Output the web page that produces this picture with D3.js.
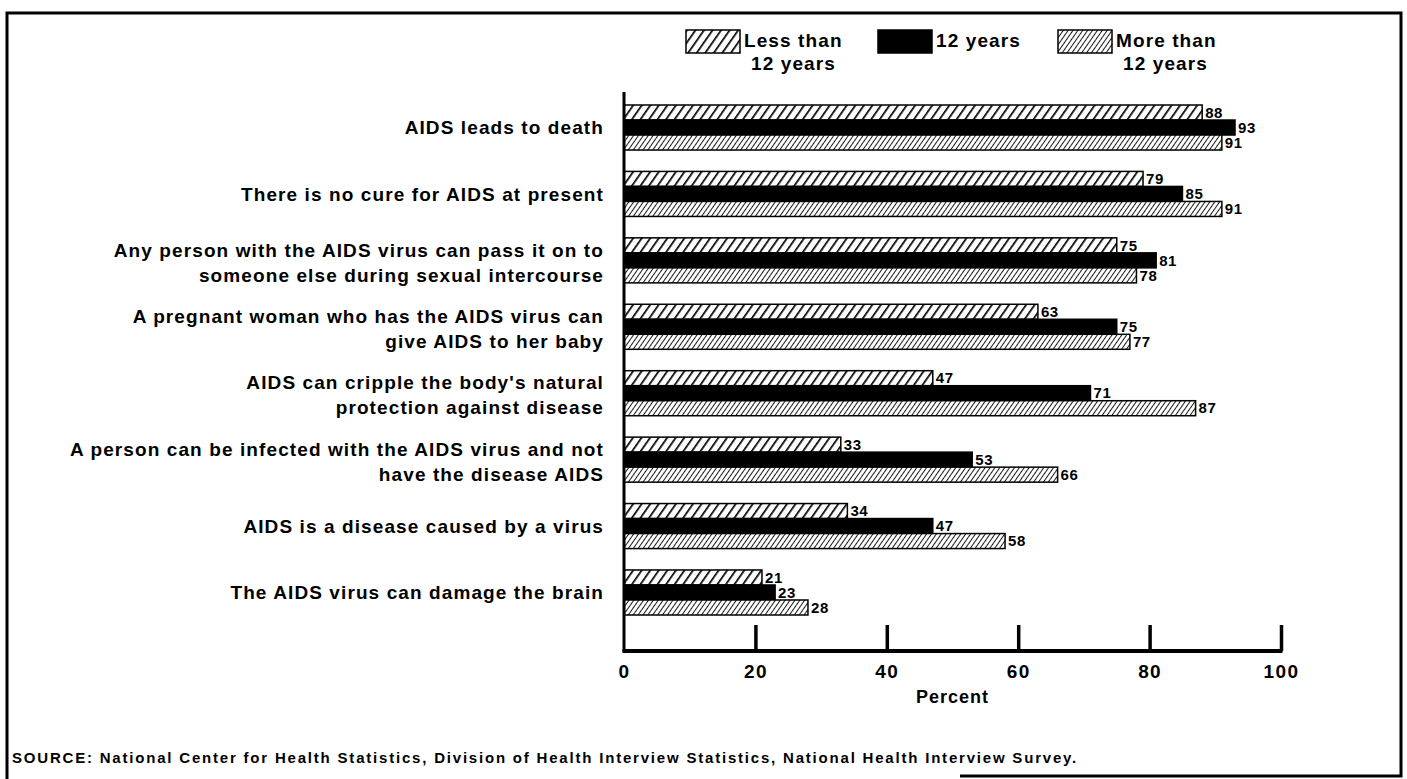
<!DOCTYPE html>
<html>
<head>
<meta charset="utf-8">
<script src="https://cdn.jsdelivr.net/npm/d3@7"></script>
<style>
  body { margin: 0; background: #fff; }
  svg text { font-family: "Liberation Sans", Arial, sans-serif; font-weight: bold; fill: #000; }
</style>
</head>
<body>
<svg id="chart"></svg>
<script>
// data
var categories = [
  ["AIDS leads to death"],
  ["There is no cure for AIDS at present"],
  ["Any person with the AIDS virus can pass it on to", "someone else during sexual intercourse"],
  ["A pregnant woman who has the AIDS virus can", "give AIDS to her baby"],
  ["AIDS can cripple the body's natural", "protection against disease"],
  ["A person can be infected with the AIDS virus and not", "have the disease AIDS"],
  ["AIDS is a disease caused by a virus"],
  ["The AIDS virus can damage the brain"]
];
var lessThan12 = [88, 79, 75, 63, 47, 33, 34, 21];
var years12    = [93, 85, 81, 75, 71, 53, 47, 23];
var moreThan12 = [91, 91, 78, 77, 87, 66, 58, 28];
var seriesNames = [["Less than", "12 years"], ["12 years"], ["More than", "12 years"]];
var xTicks = [0, 20, 40, 60, 80, 100];
var sourceNote = "SOURCE: National Center for Health Statistics, Division of Health Interview Statistics, National Health Interview Survey.";

var W = 1407, H = 779;
var svg = d3.select("#chart").attr("width", W).attr("height", H);

// hatch patterns
var defs = svg.append("defs");
function hatch(id, gap, sw) {
  var p = defs.append("pattern")
      .attr("id", id)
      .attr("patternUnits", "userSpaceOnUse")
      .attr("width", gap).attr("height", gap)
      .attr("patternTransform", "rotate(35)");
  p.append("rect").attr("width", gap).attr("height", gap).attr("fill", "#fff");
  p.append("line").attr("x1", 0).attr("y1", 0).attr("x2", 0).attr("y2", gap)
      .attr("stroke", "#000").attr("stroke-width", sw);
}
hatch("hatchWide", 7, 3.4);
hatch("hatchFine", 4, 1.8);
var fills = ["url(#hatchWide)", "#000", "url(#hatchFine)"];

// frame
svg.append("path")
    .attr("fill", "none").attr("stroke", "#000").attr("stroke-width", 3)
    .attr("d", "M7,779 L7,13 L1401,13 L1401,776 L960,776");

var x = d3.scaleLinear().domain([0, 100]).range([624, 1281]);
var y = d3.scaleBand().domain(d3.range(categories.length)).range([105, 615]).paddingInner(0.322);
var sub = d3.scaleBand().domain([0, 1, 2]).range([0, y.bandwidth()]);

var series = [lessThan12, years12, moreThan12];

// bars
var groups = svg.append("g").selectAll("g")
    .data(categories)
    .join("g")
    .attr("transform", function(d, i) { return "translate(0," + y(i) + ")"; });

groups.each(function(d, i) {
  var g = d3.select(this);
  series.forEach(function(s, k) {
    g.append("rect")
      .attr("x", x(0))
      .attr("y", sub(k))
      .attr("width", x(s[i]) - x(0))
      .attr("height", sub.bandwidth())
      .attr("fill", fills[k])
      .attr("stroke", "#000")
      .attr("stroke-width", 1.5);
    g.append("text")
      .attr("x", x(s[i]) + 3)
      .attr("y", sub(k) + sub.bandwidth() / 2)
      .attr("dy", "0.35em")
      .style("font-size", "15px")
      .style("letter-spacing", "0.6px")
      .text(s[i]);
  });
  // category label
  var lh = 25;
  var shift = d.length > 1 ? 2 : 0;
  var t = g.append("text")
    .attr("text-anchor", "end")
    .style("font-size", "19px")
    .style("letter-spacing", "1.1px");
  d.forEach(function(l, j) {
    t.append("tspan")
      .attr("x", 604)
      .attr("y", y.bandwidth() / 2 + shift + (j - (d.length - 1) / 2) * lh)
      .attr("dy", "0.35em")
      .text(l);
  });
});

// axes
var axisG = svg.append("g");
axisG.append("line")
    .attr("x1", x(0)).attr("x2", x(0)).attr("y1", 92).attr("y2", 652)
    .attr("stroke", "#000").attr("stroke-width", 3);
axisG.append("line")
    .attr("x1", x(0) - 1.5).attr("x2", x(100) + 1.5).attr("y1", 651).attr("y2", 651)
    .attr("stroke", "#000").attr("stroke-width", 4);

var xAxis = d3.axisBottom(x).tickValues(xTicks).tickSize(0).tickPadding(14);
var xa = svg.append("g")
    .attr("transform", "translate(0,651)")
    .call(xAxis);
xa.select(".domain").remove();
xa.selectAll("text")
    .attr("font-family", null)
    .style("font-size", "19px")
    .style("letter-spacing", "1.4px");
xa.selectAll(".tick").filter(function(d) { return d > 0; })
  .append("line")
    .attr("y1", 0).attr("y2", -26)
    .attr("stroke", "#000").attr("stroke-width", 3.5);

svg.append("text")
    .attr("x", x(50)).attr("y", 703)
    .attr("text-anchor", "middle")
    .style("font-size", "18px")
    .style("letter-spacing", "1px")
    .text("Percent");

// legend
var legendX = [686, 878, 1058];
var leg = svg.append("g").selectAll("g")
    .data(seriesNames)
    .join("g")
    .attr("transform", function(d, i) { return "translate(" + legendX[i] + ",30)"; });
leg.append("rect")
    .attr("width", 54).attr("height", 23)
    .attr("fill", function(d, i) { return fills[i]; })
    .attr("stroke", "#000").attr("stroke-width", 1.5);
leg.each(function(d) {
  var g = d3.select(this);
  g.append("text").attr("x", 58).attr("y", 10).attr("dy", "0.35em")
    .style("font-size", "19px").style("letter-spacing", "1.1px").text(d[0]);
  if (d[1]) {
    g.append("text").attr("x", 65).attr("y", 33).attr("dy", "0.35em")
      .style("font-size", "19px").style("letter-spacing", "1.1px").text(d[1]);
  }
});

// source
svg.append("text")
    .attr("x", 12).attr("y", 763)
    .style("font-size", "15px")
    .style("letter-spacing", "1.8px")
    .text(sourceNote);
</script>
</body>
</html>
